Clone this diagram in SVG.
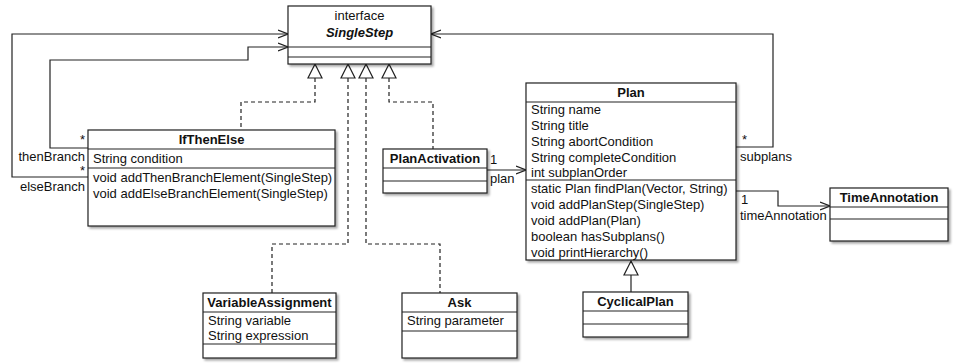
<svg xmlns="http://www.w3.org/2000/svg" width="954" height="363" viewBox="0 0 954 363">
<defs>
<filter id="sh" x="-10%" y="-10%" width="130%" height="130%">
<feDropShadow dx="2" dy="2" stdDeviation="1.2" flood-color="#000" flood-opacity="0.35"/>
</filter>
<marker id="open" viewBox="0 0 10 10" refX="10" refY="5" markerWidth="10" markerHeight="10" markerUnits="userSpaceOnUse" orient="auto">
<path d="M0,1 L10,5 L0,9" fill="none" stroke="#222" stroke-width="1.2"/>
</marker>
</defs>
<style>
text{font-family:"Liberation Sans",Arial,Helvetica,sans-serif;font-size:13px;fill:#111}
.b{font-weight:bold}
.bi{font-weight:bold;font-style:italic}
.c{text-anchor:middle}
.r{text-anchor:end}
.box{fill:#fff;stroke:#222;stroke-width:1.2;filter:url(#sh)}
.ln{stroke:#222;stroke-width:1.2;fill:none}
.assoc{stroke:#222;stroke-width:1.2;fill:none;marker-end:url(#open)}
.dash{stroke:#222;stroke-width:1.2;fill:none;stroke-dasharray:4,3}
.tri{fill:#fff;stroke:#222;stroke-width:1.2}
</style>
<rect width="954" height="363" fill="#fff"/>

<g id="connectors">
<path class="assoc" d="M88,148 H50 V60 H248 V47 H288"/>
<path class="assoc" d="M88,177 H12 V34 H288"/>
<path class="assoc" d="M736,147 H773 V34 H431"/>
<path class="assoc" d="M487,170 H526"/>
<path class="assoc" d="M736,191 H778 V206 H830"/>
<path class="dash" d="M315,78 V102 H241 V130"/>
<path class="dash" d="M348,78 V244 H272 V293"/>
<path class="dash" d="M366,78 V244 H440 V293"/>
<path class="dash" d="M389,78 V102 H433 V149"/>
<path class="ln" d="M631,275 V292"/>
<path class="tri" d="M315,64 L322,78 L308,78 Z M348,64 L355,78 L341,78 Z M366,64 L373,78 L359,78 Z M389,64 L396,78 L382,78 Z M631,261 L638,275 L624,275 Z"/>
<text class="r" x="85" y="144">*</text>
<text class="r" x="85" y="161">thenBranch</text>
<text class="r" x="85" y="175">*</text>
<text class="r" x="85" y="191">elseBranch</text>
<text x="490" y="164">1</text>
<text x="490" y="183">plan</text>
<text x="742" y="144">*</text>
<text x="740" y="161">subplans</text>
<text x="741" y="204">1</text>
<text x="740" y="220">timeAnnotation</text>
</g>

<g id="SingleStep">
<rect class="box" x="288" y="6" width="143" height="58"/>
<path class="ln" d="M288,47 H431 M288,57 H431"/>
<text class="c" x="359.5" y="20">interface</text>
<text class="c bi" x="359.5" y="37">SingleStep</text>
</g>

<g id="IfThenElse">
<rect class="box" x="88" y="130" width="247" height="96"/>
<path class="ln" d="M88,149 H335 M88,168 H335"/>
<text class="c b" x="211.5" y="144">IfThenElse</text>
<text x="93" y="163">String condition</text>
<text x="93" y="182">void addThenBranchElement(SingleStep)</text>
<text x="93" y="198">void addElseBranchElement(SingleStep)</text>
</g>

<g id="PlanActivation">
<rect class="box" x="383" y="149" width="104" height="44"/>
<path class="ln" d="M383,168 H487 M383,181 H487"/>
<text class="c b" x="435" y="163">PlanActivation</text>
</g>

<g id="Plan">
<rect class="box" x="526" y="83" width="210" height="177"/>
<path class="ln" d="M526,102 H736 M526,180 H736"/>
<text class="c b" x="631" y="97">Plan</text>
<text x="531" y="114">String name</text>
<text x="531" y="130">String title</text>
<text x="531" y="146">String abortCondition</text>
<text x="531" y="162">String completeCondition</text>
<text x="531" y="177">int subplanOrder</text>
<text x="531" y="193">static Plan findPlan(Vector, String)</text>
<text x="531" y="209">void addPlanStep(SingleStep)</text>
<text x="531" y="225">void addPlan(Plan)</text>
<text x="531" y="241">boolean hasSubplans()</text>
<text x="531" y="257">void printHierarchy()</text>
</g>

<g id="TimeAnnotation">
<rect class="box" x="830" y="188" width="118" height="53"/>
<path class="ln" d="M830,207 H948 M830,219 H948"/>
<text class="c b" x="889" y="202">TimeAnnotation</text>
</g>

<g id="VariableAssignment">
<rect class="box" x="203" y="293" width="133" height="65"/>
<path class="ln" d="M203,312 H336 M203,344 H336"/>
<text class="c b" x="269.5" y="307">VariableAssignment</text>
<text x="208" y="325">String variable</text>
<text x="208" y="340">String expression</text>
</g>

<g id="Ask">
<rect class="box" x="402" y="293" width="115" height="65"/>
<path class="ln" d="M402,312 H517 M402,331 H517"/>
<text class="c b" x="459.5" y="307">Ask</text>
<text x="407" y="325">String parameter</text>
</g>

<g id="CyclicalPlan">
<rect class="box" x="583" y="292" width="105" height="45"/>
<path class="ln" d="M583,311 H688 M583,324 H688"/>
<text class="c b" x="635.5" y="306">CyclicalPlan</text>
</g>
</svg>
